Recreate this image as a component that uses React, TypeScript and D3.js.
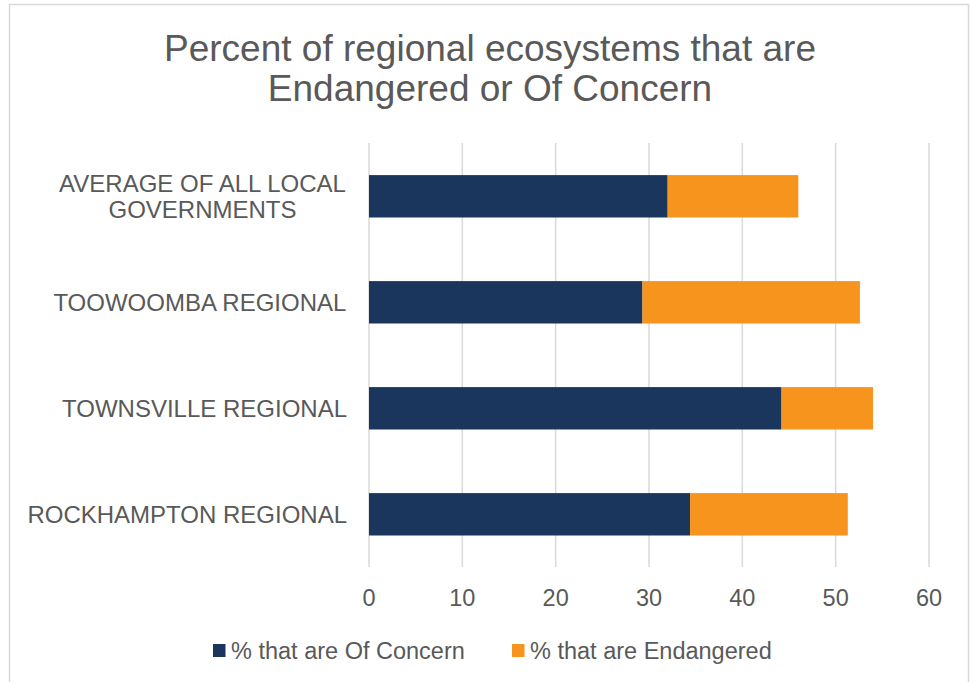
import React from "react";
import * as d3 from "d3";

const categories = [
  "AVERAGE OF ALL LOCAL GOVERNMENTS",
  "TOOWOOMBA REGIONAL",
  "TOWNSVILLE REGIONAL",
  "ROCKHAMPTON REGIONAL",
];
const categoryLines = [
  ["AVERAGE OF ALL LOCAL", "GOVERNMENTS"],
  ["TOOWOOMBA REGIONAL"],
  ["TOWNSVILLE REGIONAL"],
  ["ROCKHAMPTON REGIONAL"],
];
const ofConcern = [32, 29.3, 44.2, 34.4];
const endangered = [14, 23.3, 9.8, 16.9];
const seriesNames = ["% that are Of Concern", "% that are Endangered"];
const seriesColors = ["#1b365d", "#f7941d"];
const xTicks = [0, 10, 20, 30, 40, 50, 60];
const titleLines = ["Percent of regional ecosystems that are", "Endangered or Of Concern"];

const FONT = "'Liberation Sans', Arial, sans-serif";

function measure(text: string, size: number): number {
  if (typeof document === "undefined") return text.length * size * 0.6;
  const c = document.createElement("canvas");
  const ctx = c.getContext("2d");
  if (!ctx) return text.length * size * 0.6;
  ctx.font = `${size}px ${FONT}`;
  return ctx.measureText(text).width;
}

export default function App() {
  const W = 970;
  const H = 682;
  const x = d3.scaleLinear().domain([0, 60]).range([369, 929]);
  const y = d3.scaleBand<string>().domain(categories).range([143.3, 567.3]).paddingInner(0.6).paddingOuter(0.3);
  const textColor = "#595959";
  const labelSize = 24;
  const labelRight = 347;

  return (
    <svg width={W} height={H} style={{ position: "absolute", left: 0, top: 0 }} fontFamily={FONT}>
      <rect x={0} y={0} width={W} height={H} fill="#fff" />
      <rect x={9.5} y={4.5} width={959} height={690} fill="#fff" stroke="#d9d9d9" strokeWidth={1.5} />
      {titleLines.map((t, i) => (
        <text key={i} x={490} y={61 + i * 40} textAnchor="middle" fontSize={37} fill={textColor}>
          {t}
        </text>
      ))}
      {xTicks.map((t) => (
        <line key={t} x1={x(t)} x2={x(t)} y1={143} y2={567} stroke="#d9d9d9" strokeWidth={1.5} />
      ))}
      {categories.map((c, i) => {
        const y0 = y(c)!;
        const h = y.bandwidth();
        return (
          <g key={c}>
            <rect x={x(0)} y={y0} width={x(ofConcern[i]) - x(0)} height={h} fill={seriesColors[0]} />
            <rect
              x={x(ofConcern[i])}
              y={y0}
              width={x(ofConcern[i] + endangered[i]) - x(ofConcern[i])}
              height={h}
              fill={seriesColors[1]}
            />
          </g>
        );
      })}
      {categories.map((c, i) => {
        const cy = y(c)! + y.bandwidth() / 2;
        const lines = categoryLines[i];
        const lh = 25.5;
        const start = cy - ((lines.length - 1) * lh) / 2;
        const maxW = Math.max(...lines.map((l) => measure(l, labelSize)));
        const cx = labelRight - maxW / 2;
        return (
          <g key={c}>
            {lines.map((l, j) => (
              <text key={j} x={cx} y={start + j * lh + 8.5} textAnchor="middle" fontSize={labelSize} fill={textColor}>
                {l}
              </text>
            ))}
          </g>
        );
      })}
      {xTicks.map((t) => (
        <text key={t} x={x(t)} y={605.5} textAnchor="middle" fontSize={23.5} fill={textColor}>
          {t}
        </text>
      ))}
      {seriesNames.map((s, i) => {
        const lx = [213, 512][i];
        return (
          <g key={s}>
            <rect x={lx} y={644} width={12.5} height={13} fill={seriesColors[i]} />
            <text x={lx + 18} y={659} fontSize={23.5} fill={textColor}>
              {s}
            </text>
          </g>
        );
      })}
    </svg>
  );
}
